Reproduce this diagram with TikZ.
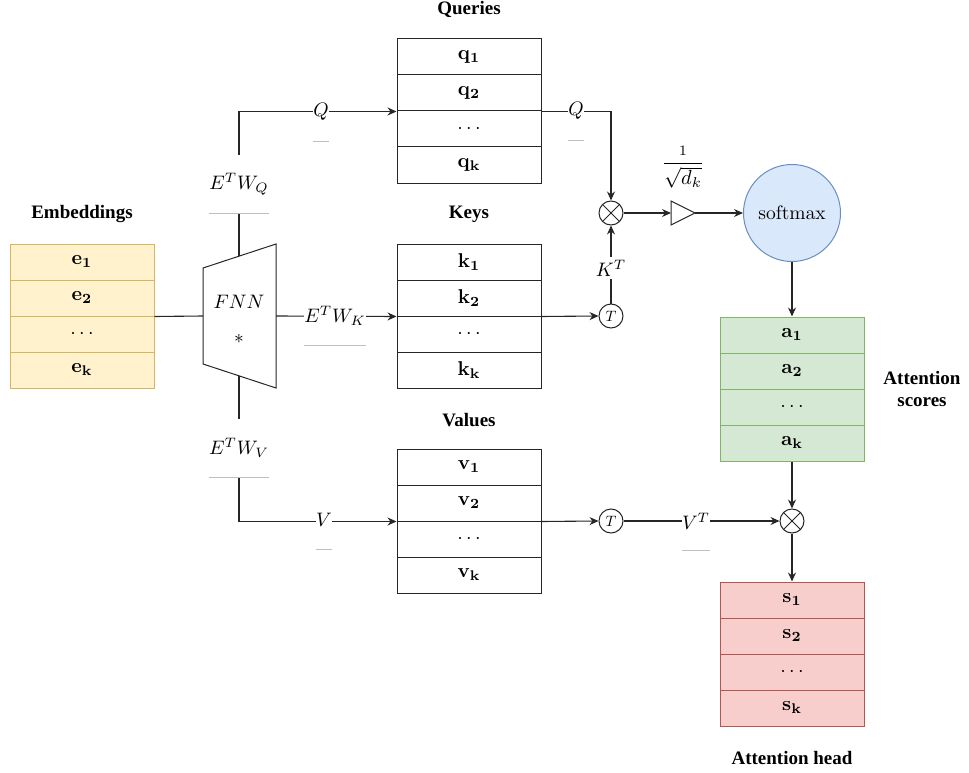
\documentclass[tikz,border=0pt]{standalone}
\usepackage{graphicx}
\usepackage[no-math]{fontspec}
\newfontfamily\titlefont{Liberation Serif}
\usetikzlibrary{arrows.meta}
\definecolor{embfill}{HTML}{FFF2CC}
\definecolor{embdraw}{HTML}{D6B656}
\definecolor{attfill}{HTML}{D5E8D4}
\definecolor{attdraw}{HTML}{82B366}
\definecolor{headfill}{HTML}{F8CECC}
\definecolor{headdraw}{HTML}{B85450}
\definecolor{smfill}{HTML}{DAE8FC}
\definecolor{smdraw}{HTML}{6C8EBF}

% enlarged 10pt math
\newcommand{\mth}[2][1.95]{\scalebox{#1}{$#2$}}

% a column of four cells: name, centre x, top y, cell style, letter
\newcommand{\cellstack}[5]{%
  \foreach \i/\t in {1/\mathbf{#5_1},2/\mathbf{#5_2},3/\cdots,4/\mathbf{#5_k}}{%
    \node[#4] (#1-\i) at (#2,{#3+36*(\i-0.5)}) {\mth[2]{\t}};
  }}

\begin{document}
\begin{tikzpicture}[x=1pt,y=-1pt,
  cell/.style={rectangle, line width=1pt, minimum width=144pt, minimum height=36pt,
    inner sep=0pt},
  plaincell/.style={cell, fill=white, draw=black!85},
  embcell/.style={cell, fill=embfill, draw=embdraw},
  attcell/.style={cell, fill=attfill, draw=attdraw},
  headcell/.style={cell, fill=headfill, draw=headdraw},
  title/.style={font=\titlefont\bfseries\fontsize{19}{22}\selectfont, align=center},
  conn/.style={line width=1.1pt, draw=black!85},
  arr/.style={conn, -{Stealth[length=9pt,width=8pt,inset=3pt]}},
  lbl/.style={fill=white, inner sep=0pt},
  tall/.style={lbl, minimum height=58pt},
  uline/.style={draw=black!25, line width=1pt},
  op/.style={circle, draw=black!85, line width=1pt, minimum size=24pt, inner sep=0pt,
    fill=white}
]
\useasboundingbox (0,0) rectangle (969,773);

% titles
\node[title] (tEmb) at (82,214) {Embeddings};
\node[title] (tQ) at (469,9) {Queries};
\node[title] (tK) at (469,214) {Keys};
\node[title] (tV) at (469,420) {Values};
\node[title, font=\titlefont\bfseries\fontsize{19}{22.5}\selectfont] (tAtt) at (922,389) {Attention\\scores};
\node[title] (tHead) at (792,758) {Attention head};

% columns of vectors
\cellstack{e}{82}{244}{embcell}{e}
\cellstack{q}{469}{39}{plaincell}{q}
\cellstack{k}{469}{244}{plaincell}{k}
\cellstack{v}{469}{449}{plaincell}{v}
\cellstack{a}{792}{317}{attcell}{a}
\cellstack{s}{792}{582}{headcell}{s}

% feed-forward block
\draw[line width=1pt, draw=black!85] (203,268) -- (276,244) -- (276,388) -- (203,364) -- cycle;
\coordinate (fnn-w) at (203,316);
\coordinate (fnn-e) at (276,316);
\coordinate (fnn-n) at (239,256.2);
\coordinate (fnn-s) at (239,375.8);
\node (fnn) at (239,302) {\mth{FNN}};
\node (star) at (239,339) {\mth{*}};

% operators
\node[op] (m1) at (611,213) {};
\node[op] (m2) at (792,521) {};
\foreach \m in {m1,m2}{
  \draw[line width=1pt, draw=black!85] (\m.north east) -- (\m.south west)
    (\m.north west) -- (\m.south east);
}
\node[op] (tk) at (611,316) {\mth[1.5]{T}};
\node[op] (tv) at (611,521) {\mth[1.5]{T}};

% scaling
\draw[line width=1pt, draw=black!85] (671,201) -- (695,213) -- (671,225) -- cycle;
\coordinate (tri-w) at (671,213);
\coordinate (tri-e) at (695,213);
\node (scale) at (683,167) {\mth[2.05]{\displaystyle\frac{\scriptstyle 1}{\sqrt{d_k}}}};

\node[circle, draw=smdraw, fill=smfill, line width=1pt, minimum size=97pt, inner sep=0pt]
  (sm) at (792,213) {\mth{\mathrm{softmax}}};

% connectors
\draw[conn] (e-2.south east) -- (fnn-w);
\draw[arr] (fnn-n) |- (q-2.south west);
\draw[arr] (fnn-e) -- (k-2.south west);
\draw[arr] (fnn-s) |- (v-2.south west);
\draw[arr] (q-2.south east) -| (m1.north);
\draw[arr] (k-2.south east) -- (tk.west);
\draw[arr] (tk.north) -- (m1.south);
\draw[arr] (m1.east) -- (tri-w);
\draw[arr] (tri-e) -- (sm.west);
\draw[arr] (sm.south) -- (a-1.north);
\draw[arr] (a-4.south) -- (m2.north);
\draw[arr] (v-2.south east) -- (tv.west);
\draw[arr] (tv.east) -- (m2.west);
\draw[arr] (m2.south) -- (s-1.north);

% connector labels
\node[tall] (lEQ) at (239,184) {\mth{E^TW_Q}};
\node[tall] (lQ) at (321,112) {\mth{Q}};
\node[tall] (lEK) at (335,316) {\mth{E^TW_K}};
\node[tall] (lEV) at (239,448) {\mth{E^TW_V}};
\node[tall] (lV) at (324,520) {\mth{V}};
\node[tall] (lQr) at (576,111) {\mth{Q}};
\node[tall] (lVT) at (696,521) {\mth{V^T}};
\node[lbl, inner sep=3pt] (lKT) at (611,268) {\mth{K^T}};
\foreach \l in {lEQ,lQ,lEK,lEV,lV,lQr,lVT}{
  \draw[uline] (\l.south west) -- (\l.south east);
}
\end{tikzpicture}
\end{document}
